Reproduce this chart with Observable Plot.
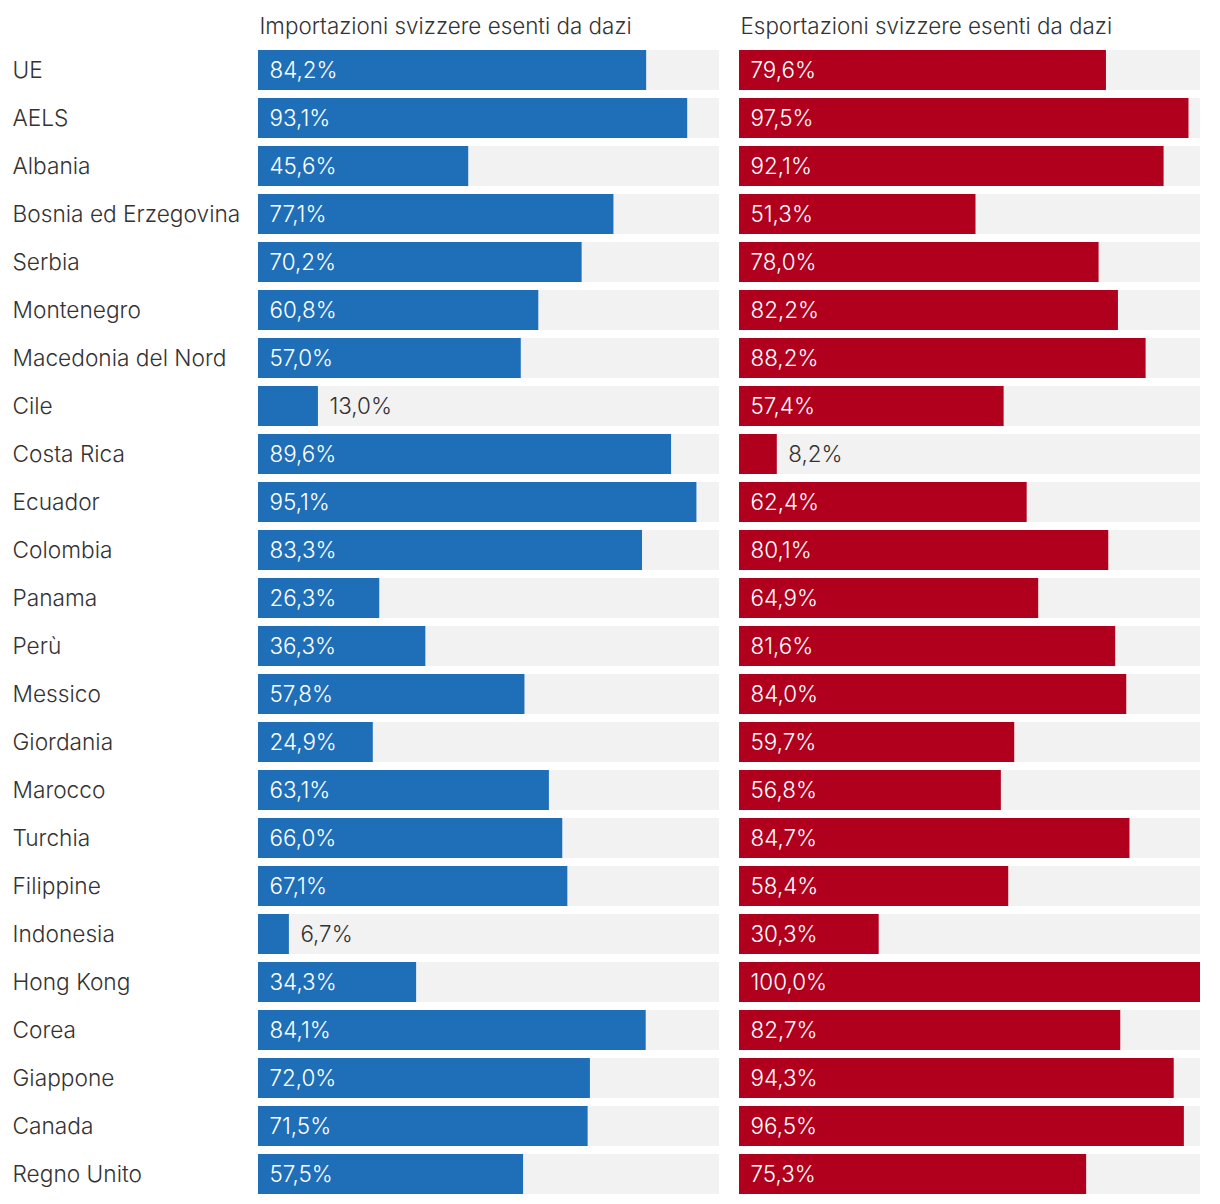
<!DOCTYPE html>
<html>
<head>
<meta charset="utf-8">
<script src="https://cdn.jsdelivr.net/npm/d3@7"></script>
<script src="https://cdn.jsdelivr.net/npm/@observablehq/plot@0.6"></script>
<style>
  html, body { margin: 0; padding: 0; background: #fff; }
  #chart svg { display: block; }
</style>
</head>
<body>
<div id="chart"></div>
<script>
const titles = ["Importazioni svizzere esenti da dazi", "Esportazioni svizzere esenti da dazi"];
const countries = ["UE", "AELS", "Albania", "Bosnia ed Erzegovina", "Serbia", "Montenegro", "Macedonia del Nord", "Cile", "Costa Rica", "Ecuador", "Colombia", "Panama", "Perù", "Messico", "Giordania", "Marocco", "Turchia", "Filippine", "Indonesia", "Hong Kong", "Corea", "Giappone", "Canada", "Regno Unito"];
const imports = [84.2, 93.1, 45.6, 77.1, 70.2, 60.8, 57.0, 13.0, 89.6, 95.1, 83.3, 26.3, 36.3, 57.8, 24.9, 63.1, 66.0, 67.1, 6.7, 34.3, 84.1, 72.0, 71.5, 57.5];
const exports = [79.6, 97.5, 92.1, 51.3, 78.0, 82.2, 88.2, 57.4, 8.2, 62.4, 80.1, 64.9, 81.6, 84.0, 59.7, 56.8, 84.7, 58.4, 30.3, 100.0, 82.7, 94.3, 96.5, 75.3];
const colors = ["#1f6fb8", "#b0001e"];

const rows = [];
countries.forEach((c, i) => {
  rows.push({country: c, panel: titles[0], value: imports[i]});
  rows.push({country: c, panel: titles[1], value: exports[i]});
});
const fmt = v => v.toFixed(1).replace(".", ",") + "%";
const threshold = 15;
const font = "Inter, Roboto, sans-serif";

const chart = Plot.plot({
  width: 1220,
  height: 1204,
  marginLeft: 258,
  marginRight: 20,
  marginTop: 50,
  marginBottom: 10,
  style: {fontFamily: font, fontWeight: 300, background: "#fff"},
  fx: {domain: titles, paddingInner: 20 / 481, paddingOuter: 0, axis: null},
  x: {domain: [0, 100], axis: null},
  y: {domain: countries, paddingInner: 1 / 6, paddingOuter: 0, axis: null},
  color: {domain: titles, range: colors},
  marks: [
    Plot.barX(rows, {fx: "panel", y: "country", x1: 0, x2: 100, fill: "#f2f2f2"}),
    Plot.barX(rows, {fx: "panel", y: "country", x1: 0, x2: "value", fill: "panel"}),
    Plot.text(rows.filter(d => d.value >= threshold), {
      fx: "panel", y: "country", x: 0, text: d => fmt(d.value),
      textAnchor: "start", dx: 11, fill: "#fff", fontSize: 22.4, fontWeight: 300
    }),
    Plot.text(rows.filter(d => d.value < threshold), {
      fx: "panel", y: "country", x: "value", text: d => fmt(d.value),
      textAnchor: "start", dx: 11, fill: "#333", fontSize: 22.4, fontWeight: 300
    }),
    Plot.text(countries, {
      fx: () => titles[0], y: d => d, text: d => d, frameAnchor: "left",
      textAnchor: "start", dx: -246, fill: "#333", fontSize: 22.7, fontWeight: 300
    }),
    Plot.text(titles, {
      fx: d => d, text: d => d, frameAnchor: "top-left", lineAnchor: "middle",
      textAnchor: "start", dx: 1, dy: -24, fill: "#333", fontSize: 22.4, fontWeight: 300
    })
  ]
});
document.getElementById("chart").appendChild(chart);
</script>
</body>
</html>
